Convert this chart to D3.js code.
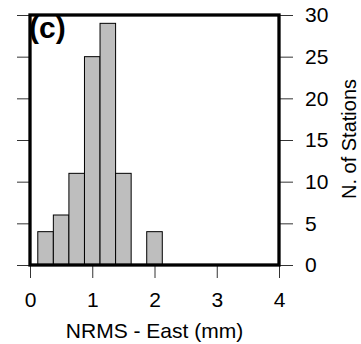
<!DOCTYPE html>
<html>
<head>
<meta charset="utf-8">
<script src="https://cdn.jsdelivr.net/npm/d3@7"></script>
<style>
  html, body { margin: 0; padding: 0; background: #fff; }
  svg text { font-family: "Liberation Sans", Arial, Helvetica, sans-serif; fill: #000; }
</style>
</head>
<body>
<svg id="chart" width="361" height="344"></svg>
<script>
// Histogram of normalized RMS (east component), bin width 0.25 mm
const binStarts = [0.125, 0.375, 0.625, 0.875, 1.125, 1.375, 1.875];
const binWidth = 0.25;
const counts = [4, 6, 11, 25, 29, 11, 4];
const xTicks = [0, 1, 2, 3, 4];
const yTicks = [0, 5, 10, 15, 20, 25, 30];

const svg = d3.select("#chart");
const plotLeft = 30, plotRight = 279, plotTop = 15, plotBottom = 265;

const x = d3.scaleLinear().domain([0, 4]).range([plotLeft, plotRight]);
const y = d3.scaleLinear().domain([0, 30]).range([plotBottom, plotTop]);

// bars
svg.append("g").selectAll("rect")
  .data(binStarts.map((s, i) => ({ s, c: counts[i] })))
  .join("rect")
  .attr("x", d => x(d.s))
  .attr("width", d => x(d.s + binWidth) - x(d.s))
  .attr("y", d => y(d.c))
  .attr("height", d => y(0) - y(d.c))
  .attr("fill", "#bebebe")
  .attr("stroke", "#000")
  .attr("stroke-width", 1);

// right axis with labels
const yAxisR = svg.append("g")
  .attr("transform", `translate(${plotRight},0)`)
  .call(d3.axisRight(y).tickValues(yTicks).tickSize(14).tickPadding(12));
yAxisR.select(".domain").remove();
yAxisR.selectAll("line").attr("stroke", "#333").attr("stroke-width", 1);
yAxisR.selectAll("text").attr("font-size", 21);

// left ticks, no labels
const yAxisL = svg.append("g")
  .attr("transform", `translate(${plotLeft},0)`)
  .call(d3.axisLeft(y).tickValues(yTicks).tickSize(13).tickFormat(""));
yAxisL.select(".domain").remove();
yAxisL.selectAll("line").attr("stroke", "#333").attr("stroke-width", 1);

// bottom axis
const xAxis = svg.append("g")
  .attr("transform", `translate(0,${plotBottom})`)
  .call(d3.axisBottom(x).tickValues(xTicks).tickSize(13).tickPadding(14).tickFormat(d3.format("d")));
xAxis.select(".domain").remove();
xAxis.selectAll("line").attr("stroke", "#333").attr("stroke-width", 1);
xAxis.selectAll("text").attr("font-size", 21);

// frame
svg.append("rect")
  .attr("x", plotLeft).attr("y", plotTop)
  .attr("width", plotRight - plotLeft).attr("height", plotBottom - plotTop)
  .attr("fill", "none").attr("stroke", "#000").attr("stroke-width", 3.3);

// titles
svg.append("text")
  .attr("x", (plotLeft + plotRight) / 2).attr("y", 338)
  .attr("text-anchor", "middle").attr("font-size", 21)
  .text("NRMS - East (mm)");

svg.append("text")
  .attr("transform", `translate(${356},${139}) rotate(-90)`)
  .attr("text-anchor", "middle").attr("font-size", 20)
  .text("N. of Stations");

svg.append("text")
  .attr("x", 29).attr("y", 38)
  .attr("font-size", 30).attr("font-weight", "bold")
  .text("(c)");
</script>
</body>
</html>
